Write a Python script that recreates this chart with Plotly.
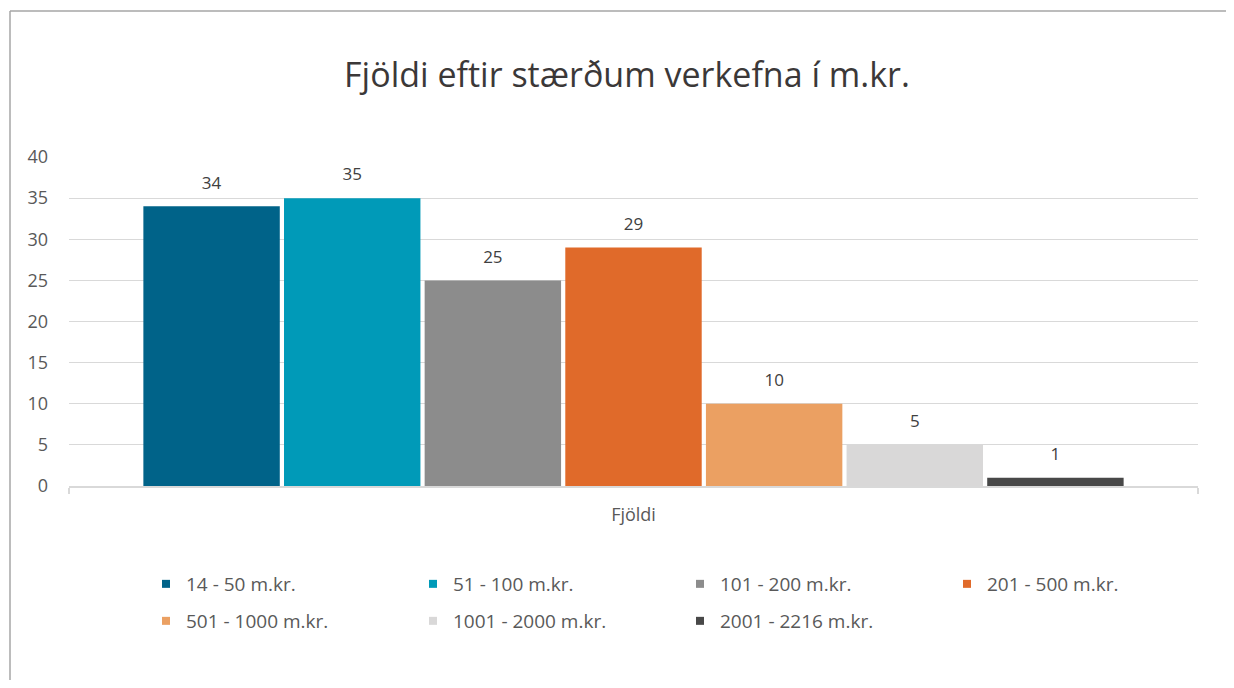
import plotly.graph_objects as go

CATEGORY = ['Fjöldi']
SERIES = ['14 - 50 m.kr.', '51 - 100 m.kr.', '101 - 200 m.kr.', '201 - 500 m.kr.',
          '501 - 1000 m.kr.', '1001 - 2000 m.kr.', '2001 - 2216 m.kr.']
VALUES = [34, 35, 25, 29, 10, 5, 1]
COLORS = ['#006389', '#009AB8', '#8C8C8C', '#E06A2A', '#EBA062', '#D9D8D8', '#484848']

FONT = 'Open Sans'
# the page body has an 8px margin, so work in figure coordinates shifted by 8
OFF = 8
W, H = 1234 - 2 * OFF, 688 - 2 * OFF
L, T = 69 - OFF, 157 - OFF
R = W - (1198 - OFF)
B = H - (486 - OFF)
PW, PH = W - L - R, H - T - B


def px_x(x):
    return (x - OFF - L) / PW


def px_y(y):
    return (486 - y) / PH


fig = go.Figure()

for name, val, col in zip(SERIES, VALUES, COLORS):
    fig.add_trace(go.Bar(
        x=CATEGORY, y=[val], name=name, marker=dict(color=col, line=dict(width=0)),
        # small blank second line lifts the label off the bar like in Excel
        texttemplate="<span style='font-size:17px'>%{y}</span><br> ",
        textposition='outside', cliponaxis=False,
        outsidetextfont=dict(family=FONT, size=9, color='#404040'),
        showlegend=False, hoverinfo='y+name',
    ))

# legend entries as small squares, split over two rows like the original
for i, (name, col) in enumerate(zip(SERIES, COLORS)):
    fig.add_trace(go.Scatter(
        x=[None], y=[None], mode='markers', name=name,
        marker=dict(symbol='square', size=8, color=col),
        legend='legend' if i < 4 else 'legend2',
    ))

legend_common = dict(
    orientation='h', xanchor='left', yanchor='middle',
    entrywidth=222, entrywidthmode='pixels',
    font=dict(family=FONT, size=19, color='#595959'),
    bgcolor='rgba(0,0,0,0)', itemclick=False,
)

fig.update_layout(
    width=W, height=H,
    margin=dict(l=L, r=R, t=T, b=B),
    paper_bgcolor='white', plot_bgcolor='white',
    barmode='group', bargap=0.128, bargroupgap=0.03,
    title=dict(text='Fjöldi eftir stærðum verkefna í m.kr.',
               x=(627 - OFF) / W, xanchor='center', y=1 - (75 - OFF) / H, yanchor='middle',
               font=dict(family=FONT, size=34, color='#3b3838')),
    legend=dict(x=px_x(146), y=px_y(584), **legend_common),
    legend2=dict(x=px_x(146), y=px_y(621), **legend_common),
    shapes=[
        dict(type='line', xref='paper', yref='paper', x0=px_x(10), x1=px_x(10),
             y0=px_y(11), y1=px_y(720), line=dict(color='#a6a6a6', width=1.5)),
        dict(type='line', xref='paper', yref='paper', x0=px_x(10), x1=px_x(1260),
             y0=px_y(11), y1=px_y(11), line=dict(color='#a6a6a6', width=1.5)),
    ],
)

fig.update_yaxes(range=[0, 40], dtick=5, showgrid=True, gridcolor='#d9d9d9', gridwidth=1,
                 zeroline=False, showline=False, ticks='', ticklabelstandoff=20,
                 tickfont=dict(family=FONT, size=18, color='#595959'))
fig.update_xaxes(showline=True, linecolor='#d9d9d9', linewidth=1.5, ticks='outside',
                 tickson='boundaries', ticklen=6, tickcolor='#d9d9d9', tickwidth=1.5,
                 tickfont=dict(family=FONT, size=18, color='#595959'), ticklabelstandoff=12)

fig.write_html('out.html')
